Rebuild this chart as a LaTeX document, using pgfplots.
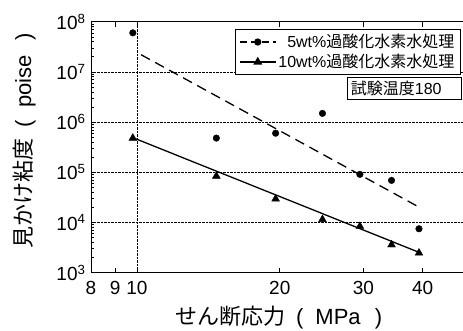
\documentclass[border=0pt]{standalone}
\usepackage{pgfplots}
\pgfplotsset{compat=1.18}
\usepackage{fontspec}
\setmainfont{Liberation Sans}
\newfontfamily\jp{Noto Sans CJK JP}
\begin{document}
\begin{tikzpicture}
\begin{axis}[
  scale only axis,
  width=377.6pt, height=251pt,
  xmode=log, ymode=log, log basis y=10,
  xmin=8, xmax=50, ymin=1e3, ymax=1e8,
  xtick={8,9,10,20,30,40},
  xticklabels={8,9,10,20,30,40},
  extra x ticks={10},
  extra x tick labels={},
  extra x tick style={grid=major},
  ytick={1e3,1e4,1e5,1e6,1e7,1e8},
  yticklabels={10\textsuperscript{3},10\textsuperscript{4},10\textsuperscript{5},10\textsuperscript{6},10\textsuperscript{7},10\textsuperscript{8}},
  minor ytick={2e3,3e3,4e3,5e3,6e3,7e3,8e3,9e3,2e4,3e4,4e4,5e4,6e4,7e4,8e4,9e4,2e5,3e5,4e5,5e5,6e5,7e5,8e5,9e5,2e6,3e6,4e6,5e6,6e6,7e6,8e6,9e6,2e7,3e7,4e7,5e7,6e7,7e7,8e7,9e7},
  ymajorgrids,
  grid style={black, densely dotted, line width=0.6pt},
  tick align=inside,
  major tick length=5pt, minor tick length=3pt,
  tick style={black, line width=0.6pt},
  axis line style={line width=0.8pt},
  /pgf/number format/assume math mode=true,
  tick label style={font=\fontsize{19}{21}\selectfont},
  xticklabel style={yshift=-5pt},
  yticklabel style={xshift=-2pt},
  xlabel={{\jp せん断応力}\hspace{0.5em}(\hspace{0.55em}MPa\hspace{0.65em})},
  ylabel={{\jp 見かけ粘度}\hspace{0.5em}(\hspace{0.55em}poise\hspace{0.65em})},
  label style={font=\fontsize{22}{24}\selectfont},
  xlabel style={at={(axis description cs:0.497,-0.18)}, anchor=center},
  ylabel style={at={(axis description cs:-0.177,0.525)}, anchor=center, rotate=0},
  legend style={at={(rel axis cs:0.381,0.970)}, anchor=north west,
    draw=black, line width=0.6pt, fill=white,
    font=\fontsize{16}{18}\selectfont,
    inner xsep=4pt, inner ysep=3pt, row sep=1pt,
    /tikz/every even column/.append style={column sep=4pt}},
  legend cell align=right,
  legend image code/.code={\draw[mark repeat=2,mark phase=2,#1] plot coordinates {(0pt,0pt) (18pt,0pt) (36pt,0pt)};},
]
\addlegendimage{black, line width=1.2pt, dash pattern=on 7pt off 4pt, mark=*, mark size=3pt, mark options={solid}}
\addlegendentry{5wt\%{\jp 過酸化水素水処理}}
\addlegendimage{black, line width=1.2pt, mark=triangle*, mark size=4pt, mark options={solid}}
\addlegendentry{10wt\%{\jp 過酸化水素水処理}}

\addplot[forget plot, only marks, mark=*, mark size=3.3pt, black] coordinates {
(9.8,6.0e7) (14.7,4.8e5) (19.6,6.0e5) (24.6,1.49e6) (29.5,9.1e4) (34.4,6.9e4) (39.3,7.5e3)};
\addplot[forget plot, only marks, mark=triangle*, mark size=4.5pt, black] coordinates {
(9.8,4.8e5) (14.7,8.4e4) (19.6,2.95e4) (24.6,1.15e4) (29.5,8.4e3) (34.4,3.6e3) (39.3,2.47e3)};
\addplot[forget plot, black, line width=1.3pt, dash pattern=on 10pt off 6pt] coordinates {
(10.2,2.2e7) (39.4,2.0e4)};
\addplot[forget plot, black, line width=1.3pt] coordinates {
(9.8,4.9e5) (39.5,2.5e3)};

\node[draw=black, line width=0.6pt, fill=white, anchor=north west, minimum width=114pt, minimum height=20pt, align=left, text width=106pt, inner sep=4pt, font=\fontsize{16}{18}\selectfont]
  at (rel axis cs:0.677,0.781) {{\jp 試験温度}180};
\coordinate (SW) at (rel axis cs:0,0);
\end{axis}
\pgfresetboundingbox
\path[use as bounding box] ([xshift=-91pt,yshift=-58.3pt]SW) rectangle ([xshift=372pt,yshift=272.7pt]SW);
\end{tikzpicture}
\end{document}
